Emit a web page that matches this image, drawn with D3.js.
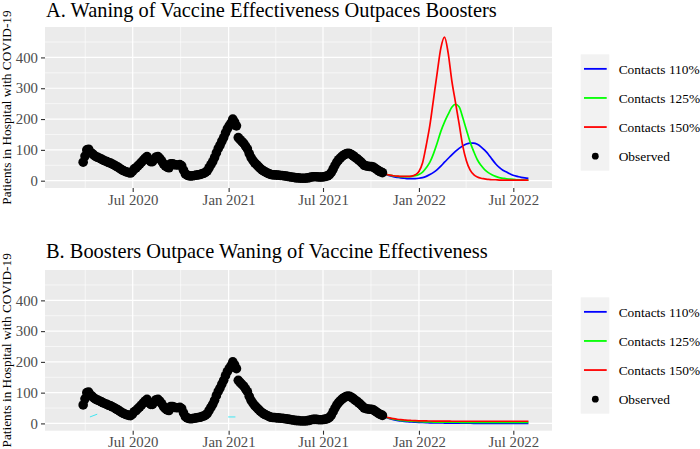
<!DOCTYPE html>
<html><head><meta charset="utf-8">
<script src="https://cdn.jsdelivr.net/npm/d3@7"></script>
<style>
html,body{margin:0;padding:0;background:#fff;}
svg{display:block;font-family:"Liberation Serif","Times New Roman",serif;}
</style></head>
<body>
<svg id="chart" width="700" height="449"></svg>
<script>
// ---------------- DATA ----------------
const titles = ["A. Waning of Vaccine Effectiveness Outpaces Boosters",
                "B. Boosters Outpace Waning of Vaccine Effectiveness"];
const yAxisTitle = "Patients in Hospital with COVID-19";
const seriesNames = ["Contacts 110%", "Contacts 125%", "Contacts 150%"];
const seriesColors = ["#0000FF", "#00FF00", "#FF0000"];
const observedLabel = "Observed";
const yTickValues = [0, 100, 200, 300, 400];
const xTickDates = ["2020-07-01", "2021-01-01", "2021-07-01", "2022-01-01", "2022-07-01"];
const xTickLabels = ["Jul 2020", "Jan 2021", "Jul 2021", "Jan 2022", "Jul 2022"];

// observed hospital census, every 3.5 days from 2020-03-28
const observedStart = "2020-03-28";
const observedStepDays = 3.5;
const observed = [60,80,100,102,92,88,82,78,76,73,70,67,64,62,59,57,54,51,47,44,
                  40,36,33,30,28,26,25,30,38,42,48,54,60,67,73,78,68,62,62,70,
                  77,78,72,64,55,48,44,42,55,55,52,51,51,52,48,34,22,18,16,15,
                  16,17,18,19,20,22,24,27,32,42,52,62,75,90,104,115,128,140,155,168,
                  178,187,200,190,178,140,133,127,121,112,103,88,75,66,58,52,46,40,35,31,
                  28,25,22,20,19,19,18,18,17,17,16,15,14,13,12,11,10,9,9,8,
                  8,8,8,9,10,12,13,13,13,12,12,12,13,14,16,20,27,38,50,60,
                  68,74,80,84,87,89,88,85,81,76,72,67,62,56,50,48,47,46,46,44,
                  40,36,32,29,26];

// model projections, weekly from 2021-10-23
const modelStart = "2021-10-23";
const modelStepDays = 7;
const panelA_110 = [25,20,16,13,11,9,8,7,7,7,8,10,14,20,27,36,47,60,72,84,
                    95,105,113,119,122,122,118,110,99,86,70,55,43,34,28,22,17,14,11,9,8];
const panelA_125 = [25,21,18,16,14,13,13,13,14,16,20,28,42,60,88,122,160,190,215,238,
                    248,240,205,165,126,95,68,50,36,26,19,14,10,8,6,5,4,3,3,2,2];
const panelA_150 = [25,21,18,16,15,14,14,14,15,19,30,58,115,180,265,350,430,466,415,325,
                    255,185,113,65,35,20,12,8,6,4,3,3,2,2,2,2,2,2,2,2,2];
const panelB_110 = [25,19,15,12,10,8,6.5,5.5,4.5,4,3.5,3,2.5,2,2,1.5,1.5,1.2,1,1,
                    0.8,0.6,0.5,0.5,0.5,0.4,0.4,0.4,0.3,0.3,0.3,0.3,0.3,0.3,0.3,0.3,0.3,0.3,0.3,0.3,0.3];
const panelB_125 = [25,20,17,14,12,10,9,8,7,6.5,6,5.5,5,5,4.5,4.5,4.2,4,4,4,
                    3.8,3.7,3.6,3.5,3.5,3.5,3.5,3.5,3.5,3.5,3.5,3.5,3.5,3.5,3.5,3.5,3.5,3.5,3.5,3.5,3.5];
const panelB_150 = [25,21,18,15.5,13.5,12,11,10,9.5,9,8.5,8,8,7.8,7.6,7.5,7.4,7.3,7.2,7.1,
                    7,7,7,7,7,7,7,7,7,7,7,7,7,7,7,7,7,7,7,7,7];
// faint cyan fragments seen in panel B
const cyanFragmentsB = [
  [["2020-04-10", 21], ["2020-04-24", 30]],
  [["2020-12-31", 21], ["2021-01-14", 21]]
];

// ---------------- LAYOUT ----------------
const DAY = 864e5;
const parse = s => new Date(s + "T00:00:00Z");
const jul2020 = parse("2020-07-01").getTime();
const xDomain = [new Date(jul2020 - 168.2 * DAY), new Date(jul2020 + 804.2 * DAY)];
const yDomain = [-23.7, 498.7];
const PL = 45, PR = 552;
const TICK_FS = 14.8, LEGEND_FS = 13.4, TITLE_FS = 20.4, YTITLE_FS = 13.3;

const panels = [
  {top: 27, bottom: 188, titleY: 17, legendTop: 54.3, title: titles[0],
   series: [panelA_110, panelA_125, panelA_150], cyan: []},
  {top: 270, bottom: 430.7, titleY: 258, legendTop: 297.3, title: titles[1],
   series: [panelB_110, panelB_125, panelB_150], cyan: cyanFragmentsB}
];

const svg = d3.select("#chart");
const x = d3.scaleUtc().domain(xDomain).range([PL, PR]);

const obsData = observed.map((v, i) => ({d: new Date(parse(observedStart).getTime() + i * observedStepDays * DAY), v}));
const modelDates = panelA_110.map((_, i) => new Date(parse(modelStart).getTime() + i * modelStepDays * DAY));

// minor x breaks: midpoints between consecutive major breaks (extended one each side)
const majorExt = ["2020-01-01", ...xTickDates, "2023-01-01"].map(parse);
const minorX = [];
for (let i = 0; i < majorExt.length - 1; i++) {
  const m = new Date((majorExt[i].getTime() + majorExt[i + 1].getTime()) / 2);
  if (m >= xDomain[0] && m <= xDomain[1]) minorX.push(m);
}
const minorY = [50, 150, 250, 350, 450];

panels.forEach(p => {
  const y = d3.scaleLinear().domain(yDomain).range([p.bottom, p.top]);
  const g = svg.append("g");

  // title
  g.append("text").attr("x", 46).attr("y", p.titleY)
    .attr("font-size", TITLE_FS).attr("fill", "#000").text(p.title);

  // panel background
  g.append("rect").attr("x", PL).attr("y", p.top).attr("width", PR - PL)
    .attr("height", p.bottom - p.top).attr("fill", "#EBEBEB");

  // minor grid
  g.selectAll(".mgx").data(minorX).join("line")
    .attr("x1", d => x(d)).attr("x2", d => x(d)).attr("y1", p.top).attr("y2", p.bottom)
    .attr("stroke", "#fff").attr("stroke-width", 0.6);
  g.selectAll(".mgy").data(minorY).join("line")
    .attr("x1", PL).attr("x2", PR).attr("y1", d => y(d)).attr("y2", d => y(d))
    .attr("stroke", "#fff").attr("stroke-width", 0.6);
  // major grid
  g.selectAll(".Mgx").data(xTickDates.map(parse)).join("line")
    .attr("x1", d => x(d)).attr("x2", d => x(d)).attr("y1", p.top).attr("y2", p.bottom)
    .attr("stroke", "#fff").attr("stroke-width", 1.2);
  g.selectAll(".Mgy").data(yTickValues).join("line")
    .attr("x1", PL).attr("x2", PR).attr("y1", d => y(d)).attr("y2", d => y(d))
    .attr("stroke", "#fff").attr("stroke-width", 1.2);

  // cyan fragments
  const cl = d3.line().x(d => x(parse(d[0]))).y(d => y(d[1]));
  p.cyan.forEach(seg => {
    g.append("path").attr("d", cl(seg)).attr("fill", "none")
      .attr("stroke", "#3FE6F2").attr("stroke-width", 1);
  });

  // model lines
  const line = d3.line().x((d, i) => x(modelDates[i])).y(d => y(d)).curve(d3.curveMonotoneX);
  p.series.forEach((s, k) => {
    g.append("path").attr("d", line(s)).attr("fill", "none")
      .attr("stroke", seriesColors[k]).attr("stroke-width", 1.7);
  });

  // observed points
  g.selectAll(".obs").data(obsData).join("circle")
    .attr("cx", d => x(d.d)).attr("cy", d => y(d.v)).attr("r", 4.8).attr("fill", "#000");

  // axes
  const ya = d3.axisLeft(y).tickValues(yTickValues).tickSize(4).tickPadding(3);
  const yg = g.append("g").attr("transform", `translate(${PL},0)`).call(ya);
  const xa = d3.axisBottom(x).tickValues(xTickDates.map(parse)).tickSize(4).tickPadding(2)
    .tickFormat((d, i) => xTickLabels[i]);
  const xg = g.append("g").attr("transform", `translate(0,${p.bottom})`).call(xa);
  [yg, xg].forEach(a => {
    a.select(".domain").remove();
    a.selectAll(".tick line").attr("stroke", "#333333").attr("stroke-width", 1.1);
    a.selectAll(".tick text").attr("fill", "#4D4D4D").attr("font-size", TICK_FS)
      .attr("font-family", "Liberation Serif, Times New Roman, serif");
  });

  // y axis title
  g.append("text").attr("transform", `translate(11,${(p.top + p.bottom) / 2}) rotate(-90)`)
    .attr("text-anchor", "middle").attr("font-size", YTITLE_FS).attr("fill", "#000").text(yAxisTitle);

  // legend
  const lg = g.append("g");
  const keyH = 29.1;
  lg.append("rect").attr("x", 580.7).attr("y", p.legendTop).attr("width", 28.6)
    .attr("height", keyH * 4).attr("fill", "#F2F2F2");
  const labels = [...seriesNames, observedLabel];
  labels.forEach((lab, k) => {
    const cy = p.legendTop + keyH * (k + 0.5);
    if (k < 3) {
      lg.append("line").attr("x1", 584).attr("x2", 606.7).attr("y1", cy).attr("y2", cy)
        .attr("stroke", seriesColors[k]).attr("stroke-width", 1.8);
    } else {
      lg.append("circle").attr("cx", 595.3).attr("cy", cy).attr("r", 3.4).attr("fill", "#000");
    }
    lg.append("text").attr("x", 618.7).attr("y", cy).attr("dy", "0.35em")
      .attr("font-size", LEGEND_FS).attr("fill", "#000").text(lab);
  });
});
</script>
</body></html>
